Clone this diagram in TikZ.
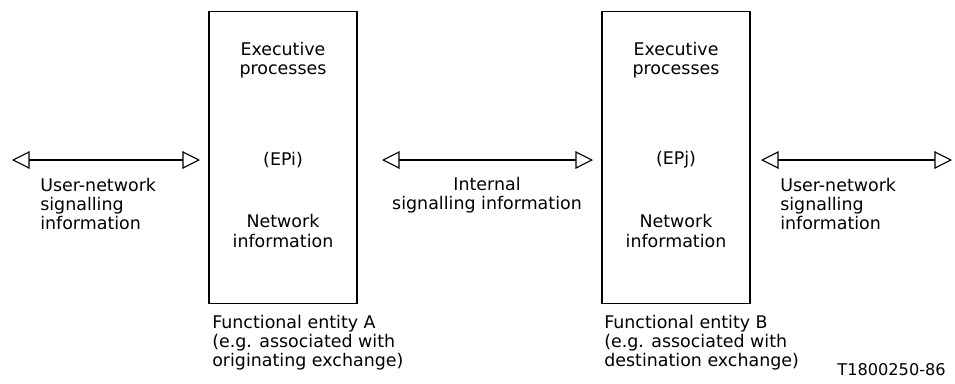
\documentclass[tikz,border=0pt]{standalone}
\usepackage{fontspec}
\setmainfont{DejaVu Sans}
\usetikzlibrary{arrows.meta}

\begin{document}
\begin{tikzpicture}[x=0.025cm,y=-0.025cm,
        txt/.style={font=\fontsize{12.4}{13.6}\selectfont,inner sep=0},
        entity/.style={draw,line width=0.9pt,minimum width=3.7cm,minimum height=7.3cm,inner sep=0},
        sig/.style={line width=0.8pt,{Triangle[open,length=12.5pt,width=12.5pt]}-{Triangle[open,length=12.5pt,width=12.5pt]}}]
        \useasboundingbox (0,0) rectangle (955,383);

        \foreach \n/\x in {A/283, B/676} {
            \coordinate (c\n) at (\x,157.5);
        }

        \coordinate (l1) at (12,160);
        \coordinate (r1) at (200,160);
        \coordinate (l2) at (382,160);
        \coordinate (r2) at (593,160);
        \coordinate (l3) at (761,160);
        \coordinate (r3) at (952,160);

        % Entities
        \node[entity] (boxA) at (cA) {};
        \node[entity] (boxB) at (cB) {};

        \foreach \n/\p in {A/i, B/j} {
            \node[txt,align=center] (exec\n) at (c\n |- 0,60) {Executive\\processes};
            \node[txt] (ep\n) at (c\n |- 0,160) {(EP\p)};
            \node[txt,align=center] (net\n) at (c\n |- 0,231) {Network\\information};
        }

        % Arrows
        \foreach \i in {1,2,3} {
            \draw[sig] (l\i) -- (r\i);
        }

        % Labels
        \node[txt,align=left,anchor=west] (userL) at (40,204) {User-network\\signalling\\information};
        \node[txt,align=center] (internal) at (487,195) {Internal\\signalling information};
        \node[txt,align=left,anchor=west] (userR) at (780,204) {User-network\\signalling\\information};

        \node[txt,align=left,anchor=west] (funcA) at (212,343) {Functional entity A\\(e.g. associated with\\originating exchange)};
        \node[txt,align=left,anchor=west] (funcB) at (604,343) {Functional entity B\\(e.g. associated with\\destination exchange)};

        \node[txt,font=\fontsize{11.5}{13}\selectfont,anchor=east] (ref) at (946,370) {T1800250-86};
    \end{tikzpicture}
\end{document}
